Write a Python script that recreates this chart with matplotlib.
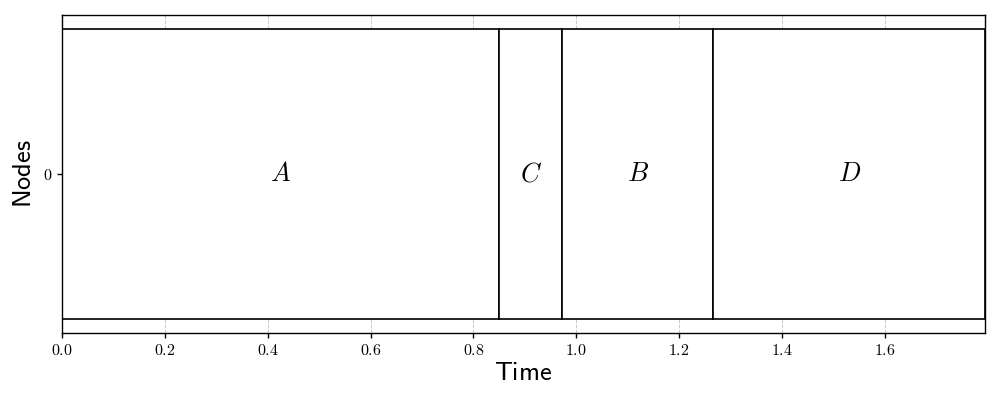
import matplotlib
matplotlib.use("Agg")
import matplotlib.pyplot as plt
from matplotlib.patches import Rectangle

plt.rcParams['mathtext.fontset'] = 'cm'

tasks = ["A", "C", "B", "D"]
starts = [0.0, 0.850, 0.973, 1.267]
ends = [0.850, 0.973, 1.267, 1.795]
nodes = [0, 0, 0, 0]
xticks = [0.0, 0.2, 0.4, 0.6, 0.8, 1.0, 1.2, 1.4, 1.6]
yticks = [0]

fig = plt.figure(figsize=(10, 4), dpi=100)
ax = fig.add_axes([0.062, 0.1675, 0.923, 0.795])

for name, s, e, n in zip(tasks, starts, ends, nodes):
    ax.add_patch(Rectangle((s, n - 0.5), e - s, 1.0, facecolor='white',
                           edgecolor='black', linewidth=1.2, zorder=2))
    ax.text((s + e) / 2, n, f"${name}$", ha='center', va='center',
            fontsize=19, zorder=3)

ax.set_xlim(0, max(ends))
ax.set_ylim(-0.55, 0.55)
ax.set_xticks(xticks)
ax.set_xticklabels([f"${t:.1f}$" for t in xticks], fontsize=11.5)
ax.set_yticks(yticks)
ax.set_yticklabels([f"${t}$" for t in yticks], fontsize=11.5)
ax.tick_params(direction='out', length=3.5, width=1)
ax.grid(True, axis='x', linestyle='--', color='#c8c8c8', linewidth=0.7, zorder=0)
ax.set_axisbelow(True)
for sp in ax.spines.values():
    sp.set_linewidth(1.0)

ax.set_xlabel(r"$\mathsf{Time}$", fontsize=19, labelpad=2)
ax.set_ylabel(r"$\mathsf{Nodes}$", fontsize=19)

fig.savefig("out.png", dpi=100)
